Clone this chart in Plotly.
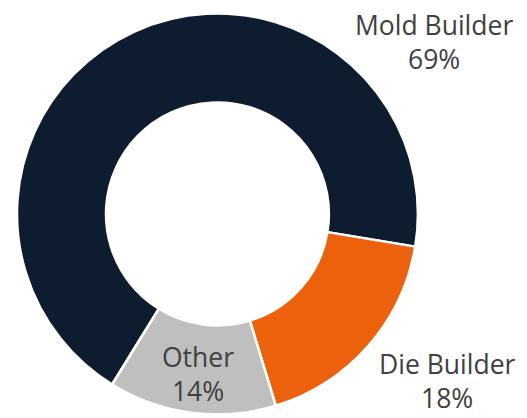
import plotly.graph_objects as go

labels = ["Mold Builder", "Die Builder", "Other"]
values = [68.8, 17.7, 13.5]
pct_text = ["69%", "18%", "14%"]
colors = ["#0e1c2f", "#ec620c", "#bfbfbf"]

FONT = "Open Sans"
TXT = "#404040"

fig = go.Figure()
fig.add_trace(go.Pie(
    labels=labels,
    values=values,
    text=pct_text,
    hole=0.556,
    sort=False,
    direction="clockwise",
    rotation=211.7,
    marker=dict(colors=colors, line=dict(color="white", width=2.5)),
    textinfo="none",
    domain=dict(x=[0.0171, 0.7778], y=[0.0275, 0.9871]),
    showlegend=False,
))

label_pos = [(0.8083, 0.9187, 26.5), (0.8349, 0.108, 26.5), (0.3605, 0.1244, 26.5)]
for i, (ax, ay, fs) in enumerate(label_pos):
    fig.add_annotation(x=ax, y=ay, xref="paper", yref="paper",
                       xanchor="center", yanchor="middle",
                       text=f"{labels[i]}<br>{pct_text[i]}", showarrow=False,
                       font=dict(family=FONT, size=fs, color=TXT), align="center")

fig.update_layout(
    width=527, height=418,
    margin=dict(l=0, r=0, t=0, b=0),
    paper_bgcolor="white", plot_bgcolor="white",
)

fig.write_html("out.html")
